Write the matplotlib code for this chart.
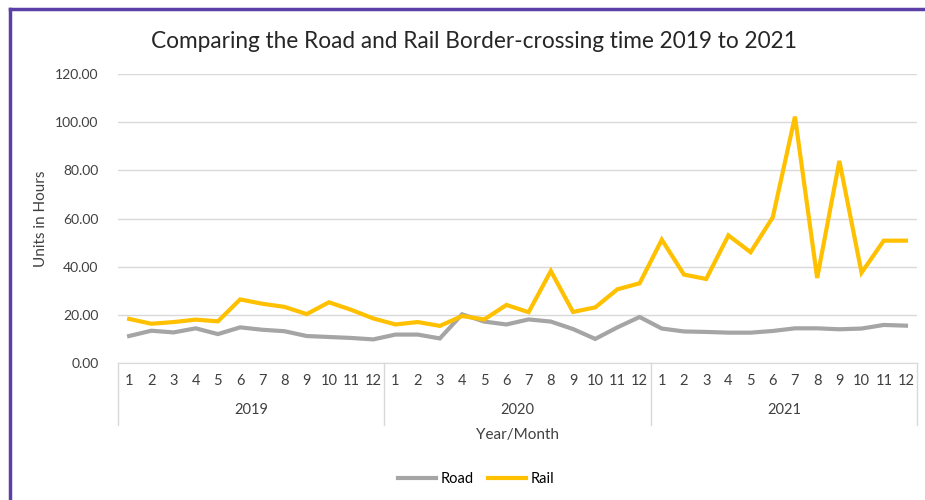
import matplotlib.pyplot as plt
from matplotlib.lines import Line2D
import matplotlib.transforms as mtransforms

plt.rcParams['font.family'] = ['Lato', 'DejaVu Sans']

years = ['2019', '2020', '2021']
months = list(range(1, 13))

road = [11.2, 13.4, 12.7, 14.4, 12.0, 14.8, 13.8, 13.2, 11.2, 10.8, 10.4, 9.8,
        11.8, 11.8, 10.2, 20.2, 17.2, 16.0, 18.1, 17.2, 14.1, 10.0, 14.8, 19.1,
        14.3, 13.1, 12.9, 12.6, 12.6, 13.3, 14.4, 14.4, 14.0, 14.3, 15.8, 15.5]
rail = [18.3, 16.3, 17.0, 18.0, 17.3, 26.4, 24.6, 23.3, 20.3, 25.2, 22.1, 18.5,
        16.0, 17.0, 15.4, 19.5, 18.1, 24.1, 21.1, 38.2, 21.2, 23.1, 30.6, 33.1,
        51.2, 36.7, 34.9, 53.0, 46.0, 60.5, 102.3, 35.3, 83.9, 37.5, 50.8, 50.8]

fig = plt.figure(figsize=(9.25, 5), dpi=100)
ax = fig.add_axes([0.1276, 0.274, 0.8638, 0.578])

x = list(range(len(road)))
ax.plot(x, road, color='#A5A5A5', lw=3, label='Road', solid_joinstyle='miter')
ax.plot(x, rail, color='#FFC000', lw=3, label='Rail', solid_joinstyle='miter')

ax.set_xlim(-0.5, 35.5)
ax.set_ylim(0, 120)
ax.set_yticks(range(0, 121, 20))
ax.set_yticklabels(['%.2f' % v for v in range(0, 121, 20)], fontsize=10, color='#404040')
ax.tick_params(axis='y', length=0, pad=14)
ax.grid(axis='y', color='#D9D9D9', lw=1)
ax.set_axisbelow(True)
ax.set_xticks([])
for s in ['top', 'right', 'left']:
    ax.spines[s].set_visible(False)
ax.spines['bottom'].set_color('#D9D9D9')

# two-level category axis
trans = mtransforms.blended_transform_factory(ax.transData, ax.transAxes)
for sep in [-0.5, 11.5, 23.5, 35.5]:
    ax.add_line(Line2D([sep, sep], [0, -0.215], transform=trans, color='#D9D9D9',
                       lw=1, clip_on=False))
for i in x:
    ax.text(i, -0.062, str(months[i % 12]), transform=trans, ha='center', va='center',
            fontsize=10.5, color='#404040')
for j, yr in enumerate(years):
    ax.text(12 * j + 5.5, -0.163, yr, transform=trans, ha='center', va='center',
            fontsize=10.5, color='#404040')
ax.text(0.5, -0.25, 'Year/Month', transform=ax.transAxes, ha='center', va='center',
        fontsize=11, color='#404040')

ax.set_ylabel('Units in Hours', fontsize=11, color='#404040', labelpad=5)
fig.text(0.512, 0.916, 'Comparing the Road and Rail Border-crossing time 2019 to 2021',
         ha='center', va='center', fontsize=16.3, color='#262626')

fig.legend(loc='center', bbox_to_anchor=(0.515, 0.042), ncol=2, frameon=False,
           fontsize=10.5, handlelength=2.6, handletextpad=0.3, columnspacing=1.0)

# purple frame on left and top
fig.add_artist(Line2D([0.0105, 0.0105], [0, 0.982], color='#5B3FA6', lw=2.5,
                      transform=fig.transFigure))
fig.add_artist(Line2D([0.0105, 1], [0.982, 0.982], color='#5B3FA6', lw=2.5,
                      transform=fig.transFigure))

fig.savefig('out.png', dpi=100)
